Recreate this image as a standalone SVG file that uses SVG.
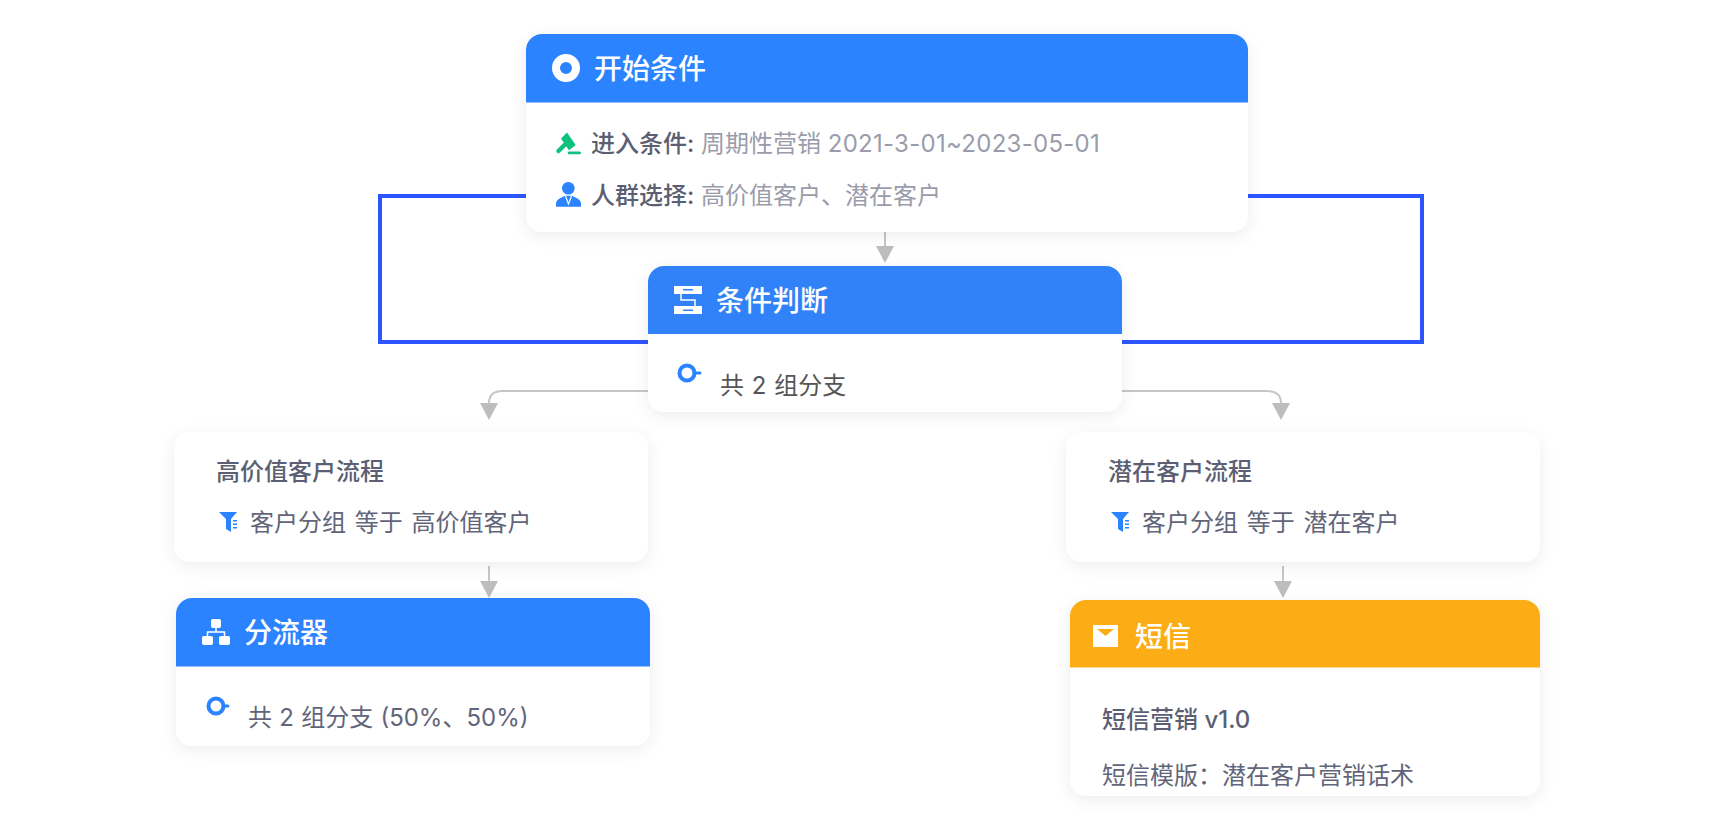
<svg xmlns="http://www.w3.org/2000/svg" width="1712" height="832" viewBox="0 0 1712 832">
<style>
text{font-family:"Inter","Noto Sans CJK SC",sans-serif;white-space:pre}
.card{fill:#fff;filter:url(#sh)}
.hb{fill:#2b83ff}
.hy{fill:#fcad16}
.ht{font-size:28px;fill:#fff;font-weight:500}
.lb{font-size:24px;fill:#5c5f73;font-weight:500}
.vl{font-size:24px;fill:#9a9cab}
.tx{font-size:24px;fill:#62657a;word-spacing:2px}
.ring{fill:none;stroke:#2b83ff;stroke-width:4}
.con{fill:none;stroke:#c6c6c6;stroke-width:2}
</style>
<defs>
<filter id="sh" x="-15%" y="-25%" width="130%" height="150%"><feDropShadow dx="0" dy="4" stdDeviation="8" flood-color="#000" flood-opacity=".07"/></filter>
<marker id="ah" markerUnits="userSpaceOnUse" markerWidth="17" markerHeight="18" refX="0" refY="9" orient="auto"><path d="M0 0L17 9L0 18z" fill="#bdbdbd"/></marker>
</defs>
<rect width="1712" height="832" fill="#fff"/>
<g id="connectors">
<rect x="380" y="196" width="1042" height="146" fill="none" stroke="#2d55ff" stroke-width="4"/>
<path class="con" d="M885 232V246" marker-end="url(#ah)"/>
<path class="con" d="M648 391H503Q489 391 489 403" marker-end="url(#ah)"/>
<path class="con" d="M1122 391H1267Q1281 391 1281 403" marker-end="url(#ah)"/>
<path class="con" d="M489 566V581" marker-end="url(#ah)"/>
<path class="con" d="M1283 566V581" marker-end="url(#ah)"/>
</g>
<g id="node-start">
<rect class="card" x="526" y="34" width="722" height="198" rx="16"/>
<path class="hb" d="M526 102.500V50a16 16 0 0 1 16-16H1232a16 16 0 0 1 16 16V102.500z"/>
<circle cx="566" cy="68" r="10" fill="none" stroke="#fff" stroke-width="8"/>
<text class="ht" x="594" y="79">开始条件</text>
<path fill="#0cc27d" d="M561 138.500L567 132.500L575.700 145L569 150.300z"/><path d="M564.500 145L558.500 151" stroke="#0cc27d" stroke-width="4.500" stroke-linecap="round"/><rect x="567.700" y="151.500" width="13.300" height="2.800" rx="1.400" fill="#0cc27d"/>
<text class="lb" x="591" y="152">进入条件:</text>
<text class="vl" x="701" y="152">周期性营销 <tspan letter-spacing=".28">2021-3-01~2023-05-01</tspan></text>
<circle cx="568.300" cy="188.300" r="6.300" fill="#2b83ff"/><path fill="#2b83ff" d="M556 206.700v-3q0-4 5-6l4-2h7l4 2q5 2 5 6v3z"/><path d="M565.500 196l3 8 3-8" fill="none" stroke="#fff" stroke-width="1.200"/>
<text class="lb" x="591" y="204">人群选择:</text>
<text class="vl" x="701" y="204">高价值客户、潜在客户</text>
</g>
<g id="node-cond">
<rect class="card" x="648" y="266" width="474" height="146" rx="16"/>
<path fill="#3182f9" d="M648 334V282a16 16 0 0 1 16-16H1106a16 16 0 0 1 16 16V334z"/>
<g fill="#fff"><rect x="674" y="286" width="28" height="8"/><rect x="674" y="306" width="28" height="8"/></g>
<path d="M681 294v6h14v6" fill="none" stroke="#fff" stroke-width="1.500"/>
<g fill="#2b83ff"><rect x="683" y="289" width="10" height="1.500"/><rect x="683" y="309.500" width="10" height="1.500"/></g>
<text class="ht" x="716" y="311">条件判断</text>
<circle class="ring" cx="687" cy="373" r="7.500"/><path d="M694 373h6" stroke="#2b83ff" stroke-width="3" stroke-linecap="round"/>
<text class="tx" x="720" y="394" style="fill:#555;word-spacing:1px">共 2 组分支</text>
</g>
<g id="node-high">
<rect class="card" x="174" y="432" width="474" height="130" rx="16"/>
<text class="lb" x="216" y="480">高价值客户流程</text>
<path fill="#2b83ff" d="M219 512h18l-6 7v13l-5-3v-10z"/><g fill="#2b83ff"><rect x="233" y="520" width="4" height="1.500"/><rect x="233" y="523.500" width="4" height="1.500"/><rect x="233" y="527" width="4" height="1.500"/></g>
<text class="tx" x="250" y="531">客户分组 等于 高价值客户</text>
</g>
<g id="node-potential">
<rect class="card" x="1066" y="432" width="474" height="130" rx="16"/>
<text class="lb" x="1108" y="480">潜在客户流程</text>
<path fill="#2b83ff" d="M1111 512h18l-6 7v13l-5-3v-10z"/><g fill="#2b83ff"><rect x="1125" y="520" width="4" height="1.500"/><rect x="1125" y="523.500" width="4" height="1.500"/><rect x="1125" y="527" width="4" height="1.500"/></g>
<text class="tx" x="1142" y="531">客户分组 等于 潜在客户</text>
</g>
<g id="node-split">
<rect class="card" x="176" y="598" width="474" height="148" rx="16"/>
<path class="hb" d="M176 666.500V614a16 16 0 0 1 16-16H634a16 16 0 0 1 16 16V666.500z"/>
<g fill="#fff"><rect x="211" y="619" width="10" height="9" rx="2"/><rect x="202" y="636" width="11" height="9" rx="2"/><rect x="219" y="636" width="11" height="9" rx="2"/></g>
<path d="M216 628v4M207.500 636v-4h17v4" fill="none" stroke="#fff" stroke-width="1.500"/>
<text class="ht" x="244" y="643">分流器</text>
<circle class="ring" cx="216" cy="706" r="7.500"/><path d="M223 706h5" stroke="#2b83ff" stroke-width="3" stroke-linecap="round"/>
<text class="tx" x="248" y="726" style="word-spacing:.5px">共 2 组分支 (50%、50%)</text>
</g>
<g id="node-sms">
<rect class="card" x="1070" y="600" width="470" height="196" rx="16"/>
<path class="hy" d="M1070 667.500V616a16 16 0 0 1 16-16H1524a16 16 0 0 1 16 16V667.500z"/>
<rect x="1093" y="625" width="25" height="22" fill="#fff"/><path d="M1097 629h17l-8.500 7z" fill="#fcad16"/>
<text class="ht" x="1135" y="647">短信</text>
<text class="lb" x="1102" y="728">短信营销 v1.0</text>
<text class="tx" x="1102" y="784">短信模版：潜在客户营销话术</text>
</g>
</svg>
